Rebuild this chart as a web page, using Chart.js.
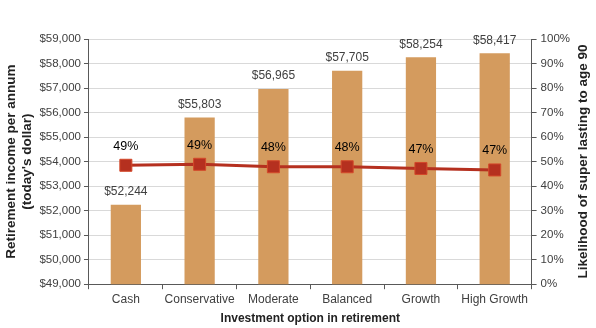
<!DOCTYPE html>
<html>
<head>
<meta charset="utf-8">
<script src="https://cdn.jsdelivr.net/npm/chart.js@4.4.1/dist/chart.umd.min.js"></script>
<style>
  html, body { margin: 0; padding: 0; background: #fff; }
  #wrap { width: 596px; height: 328px; }
</style>
</head>
<body>
<div id="wrap"><canvas id="chart" width="596" height="328"></canvas></div>
<script>
// data
const categories = ['Cash', 'Conservative', 'Moderate', 'Balanced', 'Growth', 'High Growth'];
const incomeValues = [52244, 55803, 56965, 57705, 58254, 58417];
const likelihoodValues = [48.5, 48.9, 47.9, 47.9, 47.2, 46.6];
const likelihoodLabels = ['49%', '49%', '48%', '48%', '47%', '47%'];
const rightTitle = 'Likelihood of super lasting to age 90';

const FONT = "'Liberation Sans', Arial, sans-serif";

function money(v) {
  return '$' + Number(v).toLocaleString('en-US');
}

// simple value labels, no datalabels plugin here
const valueLabels = {
  id: 'valueLabels',
  afterDatasetsDraw(chart) {
    const ctx = chart.ctx;
    ctx.save();
    ctx.textAlign = 'center';
    ctx.textBaseline = 'middle';
    ctx.font = '12px ' + FONT;

    // bar labels
    ctx.fillStyle = '#404040';
    chart.getDatasetMeta(0).data.forEach(function (bar, i) {
      ctx.fillText(money(incomeValues[i]), bar.x, bar.y - 13);
    });

    // line labels
    ctx.fillStyle = '#000';
    ctx.font = '12.5px ' + FONT;
    chart.getDatasetMeta(1).data.forEach(function (pt, i) {
      ctx.fillText(likelihoodLabels[i], pt.x, pt.y - 19);
    });
    ctx.restore();
  },
  afterDraw(chart) {
    // right axis title reads bottom-to-top like the left one
    const ctx = chart.ctx;
    const area = chart.chartArea;
    ctx.save();
    ctx.translate(583, (area.top + area.bottom) / 2);
    ctx.rotate(-Math.PI / 2);
    ctx.textAlign = 'center';
    ctx.textBaseline = 'middle';
    ctx.fillStyle = '#222';
    ctx.font = 'bold 13.5px ' + FONT;
    ctx.fillText(rightTitle, 0, 0);
    ctx.restore();
  }
};

const ctx = document.getElementById('chart');
new Chart(ctx, {
  data: {
    labels: categories,
    datasets: [
      {
        type: 'bar',
        label: 'Retirement income',
        data: incomeValues,
        backgroundColor: '#D49B5E',
        borderWidth: 0,
        categoryPercentage: 1,
        barPercentage: 0.41,
        yAxisID: 'y',
        order: 2
      },
      {
        type: 'line',
        label: 'Likelihood',
        data: likelihoodValues,
        borderColor: '#B5301F',
        borderWidth: 3,
        pointStyle: 'rect',
        pointRadius: 8.5,
        pointBackgroundColor: '#B5301F',
        pointBorderColor: '#D4482A',
        pointBorderWidth: 1,
        tension: 0,
        yAxisID: 'y1',
        order: 1
      }
    ]
  },
  plugins: [valueLabels],
  options: {
    responsive: false,
    animation: false,
    layout: { padding: { top: 39, right: 22, bottom: 2, left: 3 } },
    plugins: {
      legend: { display: false },
      tooltip: { enabled: false }
    },
    scales: {
      x: {
        grid: {
          drawOnChartArea: false,
          tickColor: '#595959',
          tickLength: 5,
          offset: true
        },
        border: { color: '#595959', width: 1 },
        ticks: { color: '#404040', font: { family: FONT, size: 12 }, padding: 3, maxRotation: 0 },
        title: {
          display: true,
          text: 'Investment option in retirement',
          color: '#222',
          font: { family: FONT, size: 12, weight: 'bold' },
          padding: { top: 2, bottom: 0 }
        }
      },
      y: {
        position: 'left',
        min: 49000,
        max: 59000,
        ticks: {
          stepSize: 1000,
          color: '#404040',
          font: { family: FONT, size: 11.5 },
          padding: 3,
          callback: function (v) { return money(v); }
        },
        grid: { color: '#D9D9D9', tickColor: '#595959', tickLength: 5 },
        border: { color: '#595959', width: 1 },
        title: {
          display: true,
          text: ['Retirement income per annum', "(today's dollar)"],
          color: '#222',
          font: { family: FONT, size: 13.5, weight: 'bold' },
          padding: { top: 0, bottom: 1 }
        }
      },
      y1: {
        position: 'right',
        min: 0,
        max: 100,
        ticks: {
          stepSize: 10,
          color: '#404040',
          font: { family: FONT, size: 11.5 },
          padding: 4,
          callback: function (v) { return v + '%'; }
        },
        grid: { drawOnChartArea: false, tickColor: '#595959', tickLength: 5 },
        border: { color: '#595959', width: 1 }
      }
    }
  }
});
</script>
</body>
</html>
